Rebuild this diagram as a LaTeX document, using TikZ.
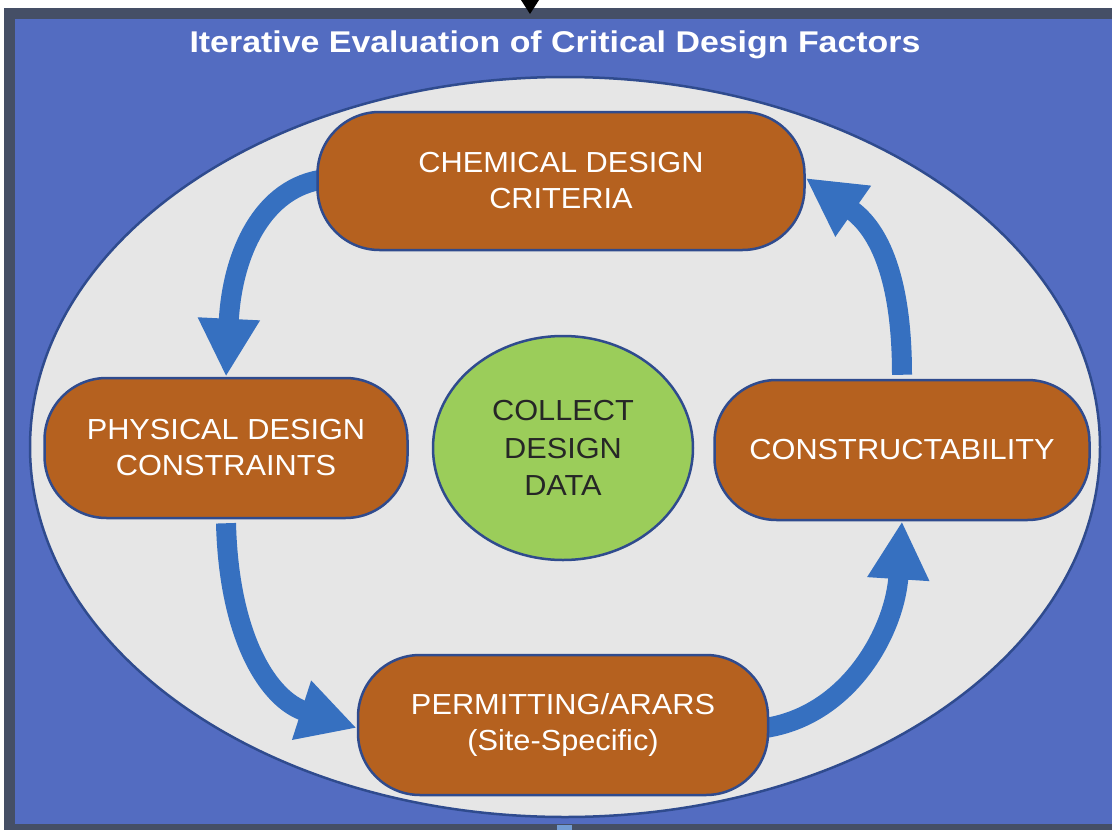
\documentclass[tikz,border=0pt]{standalone}
\usepackage{fontspec}
\setmainfont{Liberation Sans}
\newfontfamily\boxfont[FakeStretch=1.06]{Liberation Sans}
\newfontfamily\titlefont[FakeStretch=1.13]{Liberation Sans}
\usetikzlibrary{arrows.meta,shapes.geometric}
\pgfdeclarelayer{bglayer}
\pgfdeclarelayer{arrlayer}
\pgfsetlayers{bglayer,arrlayer,main}
\definecolor{framegray}{HTML}{454F66}
\definecolor{bgblue}{HTML}{536CC1}
\definecolor{ellgray}{HTML}{E6E6E6}
\definecolor{outl}{HTML}{2F4B8E}
\definecolor{brown}{HTML}{B5611F}
\definecolor{lgreen}{HTML}{9BCD5A}
\definecolor{arrblue}{HTML}{3670C0}
\tikzset{
  factor/.style={draw=outl, line width=2.5pt, fill=brown, rounded corners=62pt,
    text=white, font=\boxfont\fontsize{29}{36}\selectfont, align=center, inner sep=0pt},
  flow/.style={draw=arrblue, line width=20pt, -{Triangle[length=58pt,width=58pt]}},
}
\begin{document}
\begin{tikzpicture}[x=1pt,y=-1pt]
\useasboundingbox (0,0) rectangle (1112,830);
\begin{pgfonlayer}{bglayer}
\fill[white] (0,0) rectangle (1112,830);
\fill[framegray] (4,8) rectangle (1120,840);
\fill[bgblue] (15,19) rectangle (1112,824);
\fill[arrblue!70!white] (557,825) rectangle (572,830);
\fill[black] (521,0) -- (539,0) -- (530,14) -- cycle;
\node[ellipse, draw=outl, line width=2.5pt, fill=ellgray, minimum width=1070pt, minimum height=740pt, inner sep=0pt] (cycle) at (565,447) {};
\end{pgfonlayer}
\node[font=\titlefont\bfseries\fontsize{30}{34}\selectfont, text=white] (title) at (555,45) {Iterative Evaluation of Critical Design Factors};
% nodes
\node[factor, minimum width=487pt, minimum height=138pt] (chem) at (561,181) {CHEMICAL DESIGN\\CRITERIA};
\node[factor, minimum width=363pt, minimum height=140pt] (phys) at (226,448) {PHYSICAL DESIGN\\CONSTRAINTS};
\node[factor, minimum width=375pt, minimum height=140pt] (constr) at (902,450) {CONSTRUCTABILITY};
\node[factor, minimum width=410pt, minimum height=140pt] (perm) at (563,725) {PERMITTING/ARARS\\(Site-Specific)};
\node[ellipse, draw=outl, line width=2.5pt, fill=lgreen, minimum width=260pt, minimum height=224pt, inner sep=0pt,
  text=black!85, font=\boxfont\fontsize{29}{37.5}\selectfont, align=center] (collect) at (563,448) {COLLECT\\DESIGN\\DATA};
% arrows, on a layer beneath the boxes
\begin{pgfonlayer}{arrlayer}
\draw[flow] ([xshift=10pt,yshift=2pt]chem.west) .. controls (262,186) and (232,255) .. (phys.north);
\draw[flow] ([yshift=-4pt]phys.south) .. controls (229,640) and (270,700) .. ([yshift=-3pt]perm.west);
\draw[flow] ([xshift=-4pt,yshift=-3pt]perm.east) .. controls (850,715) and (895,630) .. (constr.south);
\draw[flow] ([yshift=4pt]constr.north) .. controls (902,280) and (880,230) .. ([yshift=3pt]chem.east);
\end{pgfonlayer}
\end{tikzpicture}
\end{document}
